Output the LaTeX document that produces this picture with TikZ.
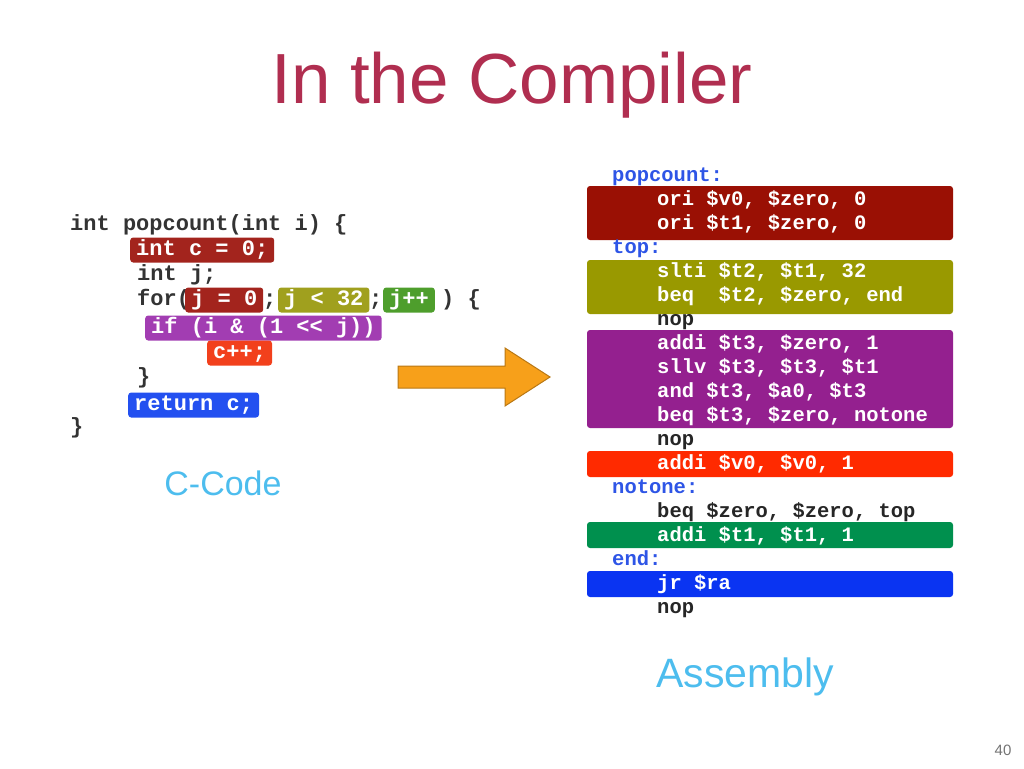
\documentclass[tikz,border=0pt]{standalone}
\usepackage{fontspec}
\setmainfont{Liberation Sans}
\newfontfamily\codefont{Liberation Mono}
\usetikzlibrary{calc, positioning}

% colours of the C-code boxes
\definecolor{cRed}{HTML}{A3241D}
\definecolor{cOlive}{HTML}{A0A01E}
\definecolor{cGreen}{HTML}{4E9E2C}
\definecolor{cPurple}{HTML}{A23DB2}
\definecolor{cOrange}{HTML}{F2401C}
\definecolor{cBlue}{HTML}{2350F0}
% colours of the assembly bars
\definecolor{aRed}{HTML}{9A1004}
\definecolor{aOlive}{HTML}{999900}
\definecolor{aPurple}{HTML}{94208F}
\definecolor{aRed2}{HTML}{FF2A00}
\definecolor{aGreen}{HTML}{00904E}
\definecolor{aBlue}{HTML}{0A34F2}
\definecolor{labelBlue}{HTML}{2E55E6}
\definecolor{titleRed}{HTML}{B02E50}
\definecolor{capBlue}{HTML}{4DBDEE}
\definecolor{arrowOrange}{HTML}{F7A01A}

\begin{document}
\begin{tikzpicture}[x=1pt,y=-1pt,
    ctext/.style={anchor=west, inner sep=0pt, text=black!80,
        font=\codefont\bfseries\fontsize{22}{22}\selectfont,
        text height=16pt, text depth=5pt, minimum height=25pt},
    cbox/.style={ctext, fill=#1, text=white, rounded corners=3pt, inner xsep=6pt},
    atext/.style={anchor=west, inner sep=0pt,
        font=\codefont\bfseries\fontsize{20.5}{20.5}\selectfont,
        text height=15pt, text depth=5pt},
    abar/.style={fill=#1, rounded corners=3pt},
    caption/.style={text=capBlue, inner sep=0pt}]
    \useasboundingbox (0,0) rectangle (1024,768);

    %標題
    \node[text=titleRed, font=\fontsize{71}{71}\selectfont, inner sep=0pt] (title) at (512,85) {In the Compiler};

    %C 程式碼
    \node[ctext] (cLine1) at (70,225) {int popcount(int i) \{};
    \node[cbox=cRed] (cInit) at (130,250) {int c = 0;};
    \node[ctext] (cDecl) at (137,275) {int j;};
    \node[ctext] (cFor) at (137,300) {for(};
    \node[cbox=cRed] (cForInit) at (185,300) {j = 0};
    \node[ctext] (cSemiA) at (263,300) {;};
    \node[cbox=cOlive] (cForTest) at (278,300) {j < 32};
    \node[ctext] (cSemiB) at (369,300) {;};
    \node[cbox=cGreen] (cForInc) at (383,300) {j++};
    \node[ctext] (cForEnd) at (441,300) {) \{};
    \node[cbox=cPurple] (cIf) at (145,328) {if (i \& (1 << j))};
    \node[cbox=cOrange] (cInc) at (207,353) {c++;};
    \node[ctext] (cClose) at (137,378) {\}};
    \node[cbox=cBlue] (cRet) at (128,405) {return c;};
    \node[ctext] (cEnd) at (70,428) {\}};
    \node[caption, font=\fontsize{34}{34}\selectfont] (cCaption) at (223,483) {C-Code};

    %箭頭
    \coordinate (cArrowTail) at (398,377);
    \coordinate (cArrowTip) at (550,377);
    \draw[fill=arrowOrange, draw=arrowOrange!75!black, line width=1pt]
        ($(cArrowTail)+(0,-11)$) -- ++(107,0) -- ++(0,-18) -- (cArrowTip)
        -- ($(cArrowTail)+(107,29)$) -- ++(0,-18) -- ($(cArrowTail)+(0,11)$) -- cycle;

    %組合語言的色塊
    \fill[abar=aRed] (587,186) rectangle (953,240);
    \fill[abar=aOlive] (587,260) rectangle (953,314);
    \fill[abar=aPurple] (587,330) rectangle (953,428);
    \fill[abar=aRed2] (587,451) rectangle (953,477);
    \fill[abar=aGreen] (587,522) rectangle (953,548);
    \fill[abar=aBlue] (587,571) rectangle (953,597);

    \foreach \n/\y/\t in
    {pop/176/popcount:,
        top/248/top:,
        notone/488/notone:,
        end/560/end:
    }
    {
        \node[atext, text=labelBlue] (lbl\n) at (612,\y) {\t};
    };

    \foreach \n/\y/\t/\c in
    {1/200/{ori \$v0, \$zero, 0}/white,
        2/224/{ori \$t1, \$zero, 0}/white,
        3/272/{slti \$t2, \$t1, 32}/white,
        4/296/{beq\ \ \$t2, \$zero, end}/white,
        5/320/{nop}/black!85,
        6/344/{addi \$t3, \$zero, 1}/white,
        7/368/{sllv \$t3, \$t3, \$t1}/white,
        8/392/{and \$t3, \$a0, \$t3}/white,
        9/416/{beq \$t3, \$zero, notone}/white,
        10/440/{nop}/black!85,
        11/464/{addi \$v0, \$v0, 1}/white,
        12/512/{beq \$zero, \$zero, top}/black!85,
        13/536/{addi \$t1, \$t1, 1}/white,
        14/584/{jr \$ra}/white,
        15/608/{nop}/black!85
    }
    {
        \node[atext, text=\c] (asm\n) at (657,\y) {\t};
    };
    \node[caption, font=\fontsize{41}{41}\selectfont] (aCaption) at (745,677) {Assembly};

    \node[text=black!55, font=\fontsize{15}{15}\selectfont, inner sep=0pt] (pageNum) at (1003,750) {40};
\end{tikzpicture}
\end{document}
